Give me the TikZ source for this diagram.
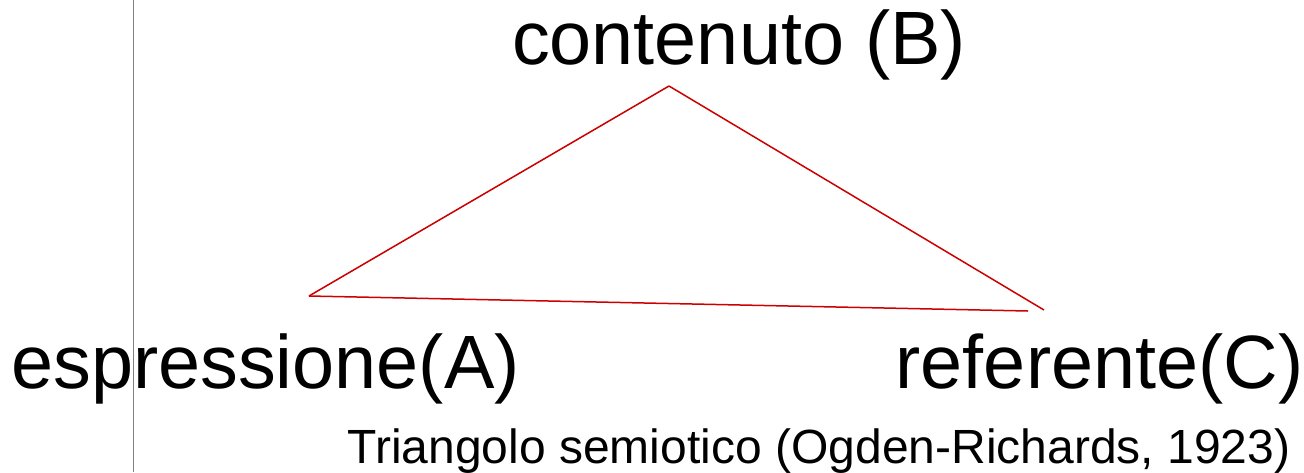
\documentclass[tikz,border=0pt]{standalone}
\usepackage{fontspec}
\setmainfont{Liberation Sans}
\begin{document}
\begin{tikzpicture}[x=1pt,y=-1pt,
  bigtxt/.style={inner sep=0pt,anchor=base,font=\fontsize{75.6}{86}\selectfont},
  captxt/.style={inner sep=0pt,anchor=base,font=\fontsize{48}{56}\selectfont},
  edge/.style={draw={rgb,255:red,204;green,0;blue,0},line width=1.5pt},
  rule/.style={draw={rgb,255:red,128;green,128;blue,128},line width=1pt}]
\useasboundingbox (0,0) rectangle (1304,472);
\coordinate (rtop) at (133,0);
\coordinate (rbot) at (133,472);
\draw[rule] (rtop) -- (rbot);
\node[bigtxt] (B) at (739,64) {contenuto (B)};
\node[bigtxt] (A) at (265.5,388) {espressione(A)};
\node[bigtxt] (C) at (1099.5,388) {referente(C)};
\node[captxt] (cap) at (819,463) {Triangolo semiotico (Ogden-Richards, 1923)};
\coordinate (vtop) at (669,86);
\coordinate (vleft) at (309,296);
\coordinate (vright) at (1044,310);
\coordinate (vbot) at (1028,311);
\draw[edge] (vtop) -- (vleft);
\draw[edge] (vleft) -- (vbot);
\draw[edge] (vtop) -- (vright);
\end{tikzpicture}
\end{document}
